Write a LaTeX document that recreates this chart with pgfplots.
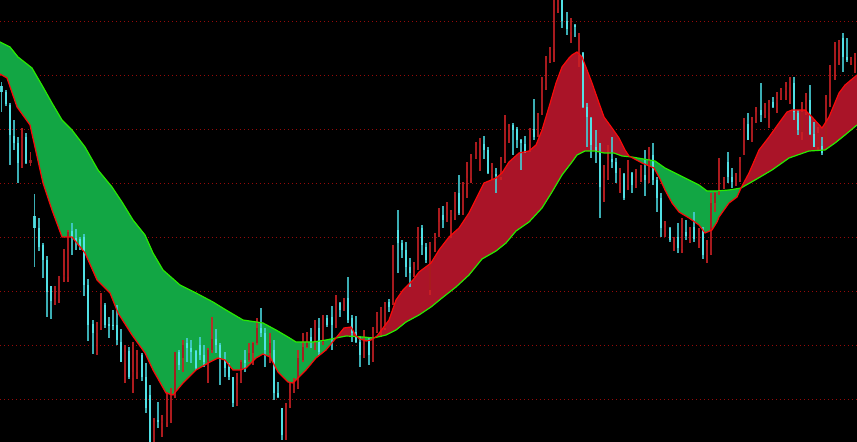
\documentclass[border=0pt]{standalone}
\usepackage{pgfplots}
\pgfplotsset{compat=1.18}
\usepackage{pgfplotstable}
\usepgfplotslibrary{fillbetween}

\definecolor{gridred}{RGB}{150,10,10}
\definecolor{cbody}{RGB}{85,232,236}
\definecolor{cwick}{RGB}{70,205,212}
\definecolor{rbody}{RGB}{165,26,30}
\definecolor{rwick}{RGB}{205,32,36}
\definecolor{fillgreen}{RGB}{18,166,68}
\definecolor{fillred}{RGB}{170,20,40}
\definecolor{linegreen}{RGB}{40,235,0}
\definecolor{linered}{RGB}{250,10,10}

% candles: x, high(px), low(px), body top, body bottom  (pixel y, downward)
\pgfplotstableread{
x hi lo bt bb
22 128 168 138 163
30.7 152 166 160 163
55 286 305 299 303
59 276 303 276 299
64 249 282 275 277
68 230 282 232 277
97 322 355 324 333
101 293 330 304 327
125 345 383 352 363
133 342 393 372 378
137 350 379 355 372
154 418 442 422 442
162 415 437 421 423
167 392 427 410 422
171 388 423 395 410
175 352 398 352 395
183 340 372 345 358
208 348 383 350 362
212 317 353 339 350
237 373 406 385 405
241 360 383 362 382
249 343 362 353 360
253 342 365 343 353
257 318 345 328 343
270 333 363 343 353
286 403 440 407 435
290 383 408 393 405
294 378 393 387 393
298 350 389 358 388
303 333 362 347 360
307 332 348 336 347
315 320 350 328 342
323 315 345 320 342
336 295 328 305 325
344 298 311 299 311
364 330 358 340 357
373 327 362 333 360
377 312 333 313 332
381 307 337 308 330
385 302 330 304 328
393 245 305 248 303
414 262 277 269 274
418 227 270 228 270
430 242 295 243 290
435 233 252 235 242
439 208 237 222 237
447 202 222 215 222
451 210 238 212 217
455 192 220 193 213
463 182 215 183 213
467 162 198 178 183
471 154 183 158 178
476 142 159 145 158
480 138 171 144 146
492 163 180 172 174
501 157 180 159 177
505 115 163 130 159
509 124 143 127 130
530 128 152 128 140
538 113 137 115 135
542 77 115 77 115
546 56 90 59 87
550 47 63 49 62
554 0 62 0 49
558 0 13 0 8
571 18 43 25 32
579 33 67 50 55
604 165 202 178 187
608 145 180 160 178
620 168 193 174 175
628 160 190 172 185
636 169 188 178 187
641 165 182 177 180
649 147 183 155 182
665 221 237 227 230
674 237 251 238 240
682 218 253 233 249
690 227 243 233 235
699 228 248 235 239
707 240 263 245 255
711 193 255 203 254
715 192 212 193 203
719 158 195 180 192
724 177 189 178 182
736 173 186 180 183
740 157 182 162 180
744 118 155 124 155
752 117 142 120 142
756 107 123 112 120
765 103 118 113 115
769 100 128 103 113
777 92 113 99 103
781 88 100 90 99
786 82 100 87 91
790 77 104 80 87
802 102 140 112 132
806 93 115 102 112
818 127 150 133 147
826 95 143 99 143
830 65 107 71 99
835 42 80 50 70
839 40 65 41 50
851 57 65 58 61
855 53 73 55 58
}\redcandles

\pgfplotstableread{
x hi lo bt bb
1.7 82 112 86 92
6 90 106 92 104
10 103 165 105 135
14 120 150 136 143
18 137 183 143 163
26 133 164 137 163
34.7 194 267 216 228
39 218 251 228 247
43 243 278 245 260
47 256 317 260 292
51 286 319 286 301
72 223 255 231 238
76 229 250 238 242
80 237 250 239 246
84 234 296 237 285
88 279 341 285 325
93 320 354 324 333
105 303 328 305 325
109 317 338 324 326
113 310 330 325 326
117 305 345 325 340
121 329 362 342 362
129 347 379 351 377
142 353 381 355 377
146 363 413 377 408
150 385 442 395 442
158 402 428 420 422
179 350 370 352 365
187 338 362 343 348
191 340 363 348 352
196 350 370 351 368
200 337 360 345 355
204 345 367 355 362
216 329 353 339 345
220 343 385 345 358
225 352 377 360 368
229 363 380 367 377
233 377 407 377 403
245 350 372 360 363
261 308 337 328 333
265 328 367 333 350
274 340 400 350 393
278 382 398 393 397
282 408 440 408 435
311 328 348 337 342
319 318 355 328 352
327 315 327 318 325
332 306 350 317 325
340 302 317 303 310
348 277 323 298 320
352 315 342 318 333
356 316 343 332 342
360 337 367 342 355
369 337 365 340 355
389 299 312 302 307
398 210 273 230 243
402 240 258 243 250
406 242 277 250 267
410 258 287 267 273
422 225 255 228 245
426 243 263 247 260
443 206 228 215 220
459 175 215 193 213
484 136 159 144 150
488 147 174 150 173
496 168 193 174 176
513 123 155 125 130
517 127 148 129 140
521 139 170 140 143
525 136 153 144 152
534 99 140 129 137
562 0 28 0 21
567 12 35 21 29
575 24 37 25 27
583 52 108 53 107
587 103 147 107 117
591 117 158 118 145
596 130 163 147 152
600 143 218 152 187
612 137 168 159 162
616 158 183 162 173
624 173 200 174 198
632 172 193 173 185
645 150 196 175 180
653 143 185 155 180
657 177 212 180 198
661 193 237 198 228
670 227 242 228 240
678 223 253 237 248
686 220 240 232 236
694 212 242 227 239
703 227 259 230 255
728 152 183 162 177
732 168 188 177 182
748 113 140 124 140
761 83 122 110 115
773 97 108 102 107
794 77 120 83 112
798 110 135 113 130
810 85 135 100 134
814 122 147 134 147
822 137 155 146 153
843 33 72 38 57
847 38 62 57 60
}\cyancandles

\begin{document}
\begin{tikzpicture}
\begin{axis}[
  set layers,
  scale only axis, width=857bp, height=442bp,
  xmin=0, xmax=857, ymin=0, ymax=442, y dir=reverse,
  axis background/.style={fill=black},
  axis line style={draw=none},
  xtick=\empty,
  ytick={22,76,130,184,238,292,346,400},
  yticklabels={},
  ymajorgrids,
  major grid style={draw=gridred, line width=1bp, dash pattern=on 1.2bp off 2.8bp},
  tick style={draw=none},
]
% slow MA (green) -- path only, drawn again on top later
\addplot[name path=G, draw=none, forget plot] coordinates {
(0,42)(10,47)(18,57)(32,68)(43,87)(52,103)(62,120)(72,130)(85,147)(98,170)
(112,187)(122,202)(133,220)(145,235)(153,253)(163,270)(180,285)(196,293)
(213,302)(226,310)(243,320)(263,323)(276,330)(288,337)(296,342)(313,342)
(326,340)(336,338)(346,336)(356,336.5)(363,337)(373,338)(380,336.5)(386,335)(396,330)
(406,322)(419,315)(431,307)(442,298)(456,287)(469,275)(482,259)(496,251)
(506,243)(516,231)(529,222)(542,208)(552,192)(562,175)(572,162)(577,155)
(585,151)(595,151)(604,153)(614,153)(622,156)(632,157)(655,161)(665,168)
(675,173)(689,180)(699,185)(707,191)(717,191)(729,190)(741,188)(755,180)
(772,170)(789,158)(809,151)(825,150)(835,143)(845,135)(857,125)
};
% fast MA (red) -- path only
\addplot[name path=R, draw=none, forget plot] coordinates {
(0,74)(7,78)(17,107)(30,125)(43,183)(52,210)(62,237)(72,237)(85,253)(97,280)
(110,293)(118,313)(132,335)(145,353)(153,370)(166,393)(173,395)(183,383)
(196,370)(210,362)(218,358)(225,360)(233,370)(240,370)(246,368)(256,358)
(263,354)(270,357)(278,372)(288,382)(293,383)(299,377)(306,370)(316,358)
(326,350)(336,338)(344,328)(351,327)(356,336)(360,339)(366,341)(371,340)
(377,336)(383,328)(389,320)(396,300)(403,290)(413,280)(419,272)(431,263)
(439,250)(449,237)(459,228)(469,213)(479,193)(484,183)(496,178)(502,173)
(509,162)(519,153)(529,151)(536,145)(542,130)(549,107)(556,83)(562,67)
(569,58)(572,55)(577,52)(582,57)(587,70)(592,83)(599,103)(604,117)(612,128)
(619,138)(625,150)(629,156)(642,163)(654,168)(659,177)(665,190)(672,203)
(679,212)(689,218)(699,225)(705,233)(712,230)(717,222)(719,217)(729,203)
(737,197)(741,188)(749,173)(759,150)(769,137)(779,123)(787,112)(792,110)
(805,110)(812,117)(822,128)(829,117)(839,93)(845,85)(857,75)
};

% cloud between the two averages (pre main layer)
\addplot[fill=fillgreen, draw=none] fill between[of=G and R, soft clip={domain=0:336}];
\addplot[fill=fillred, draw=none] fill between[of=G and R, soft clip={domain=336:356}];
\addplot[fill=fillgreen, draw=none] fill between[of=G and R, soft clip={domain=356:377}];
\addplot[fill=fillred, draw=none] fill between[of=G and R, soft clip={domain=377:629}];
\addplot[fill=fillgreen, draw=none] fill between[of=G and R, soft clip={domain=629:741}];
\addplot[fill=fillred, draw=none] fill between[of=G and R, soft clip={domain=741:857}];

% candles: wicks
\addplot[draw=none, mark=none, forget plot,
  error bars/.cd, y dir=both, y explicit, error mark=none,
  error bar style={draw=rwick, line width=1.1bp, solid, opacity=0.85}]
  table[x=x, y expr={(\thisrow{hi}+\thisrow{lo})/2}, y error expr={(\thisrow{lo}-\thisrow{hi})/2}] {\redcandles};
\addplot[draw=none, mark=none, forget plot,
  error bars/.cd, y dir=both, y explicit, error mark=none,
  error bar style={draw=cwick, line width=1.1bp, solid, opacity=0.85}]
  table[x=x, y expr={(\thisrow{hi}+\thisrow{lo})/2}, y error expr={(\thisrow{lo}-\thisrow{hi})/2}] {\cyancandles};
% candles: bodies
\addplot[draw=none, mark=none, forget plot,
  error bars/.cd, y dir=both, y explicit, error mark=none,
  error bar style={draw=rbody, line width=2.8bp, solid, opacity=0.88}]
  table[x=x, y expr={(\thisrow{bt}+\thisrow{bb})/2}, y error expr={(\thisrow{bb}-\thisrow{bt})/2}] {\redcandles};
\addplot[draw=none, mark=none, forget plot,
  error bars/.cd, y dir=both, y explicit, error mark=none,
  error bar style={draw=cbody, line width=2.8bp, solid, opacity=0.88}]
  table[x=x, y expr={(\thisrow{bt}+\thisrow{bb})/2}, y error expr={(\thisrow{bb}-\thisrow{bt})/2}] {\cyancandles};

% the two averages drawn on top
\addplot[draw=linegreen, line width=1.2bp] coordinates {
(0,42)(10,47)(18,57)(32,68)(43,87)(52,103)(62,120)(72,130)(85,147)(98,170)
(112,187)(122,202)(133,220)(145,235)(153,253)(163,270)(180,285)(196,293)
(213,302)(226,310)(243,320)(263,323)(276,330)(288,337)(296,342)(313,342)
(326,340)(336,338)(346,336)(356,336.5)(363,337)(373,338)(380,336.5)(386,335)(396,330)
(406,322)(419,315)(431,307)(442,298)(456,287)(469,275)(482,259)(496,251)
(506,243)(516,231)(529,222)(542,208)(552,192)(562,175)(572,162)(577,155)
(585,151)(595,151)(604,153)(614,153)(622,156)(632,157)(655,161)(665,168)
(675,173)(689,180)(699,185)(707,191)(717,191)(729,190)(741,188)(755,180)
(772,170)(789,158)(809,151)(825,150)(835,143)(845,135)(857,125)
};
\addplot[draw=linered, line width=1.2bp] coordinates {
(0,74)(7,78)(17,107)(30,125)(43,183)(52,210)(62,237)(72,237)(85,253)(97,280)
(110,293)(118,313)(132,335)(145,353)(153,370)(166,393)(173,395)(183,383)
(196,370)(210,362)(218,358)(225,360)(233,370)(240,370)(246,368)(256,358)
(263,354)(270,357)(278,372)(288,382)(293,383)(299,377)(306,370)(316,358)
(326,350)(336,338)(344,328)(351,327)(356,336)(360,339)(366,341)(371,340)
(377,336)(383,328)(389,320)(396,300)(403,290)(413,280)(419,272)(431,263)
(439,250)(449,237)(459,228)(469,213)(479,193)(484,183)(496,178)(502,173)
(509,162)(519,153)(529,151)(536,145)(542,130)(549,107)(556,83)(562,67)
(569,58)(572,55)(577,52)(582,57)(587,70)(592,83)(599,103)(604,117)(612,128)
(619,138)(625,150)(629,156)(642,163)(654,168)(659,177)(665,190)(672,203)
(679,212)(689,218)(699,225)(705,233)(712,230)(717,222)(719,217)(729,203)
(737,197)(741,188)(749,173)(759,150)(769,137)(779,123)(787,112)(792,110)
(805,110)(812,117)(822,128)(829,117)(839,93)(845,85)(857,75)
};
\end{axis}
\pgfresetboundingbox
\path[use as bounding box] (current axis.south west) rectangle (current axis.north east);
\end{tikzpicture}
\end{document}
